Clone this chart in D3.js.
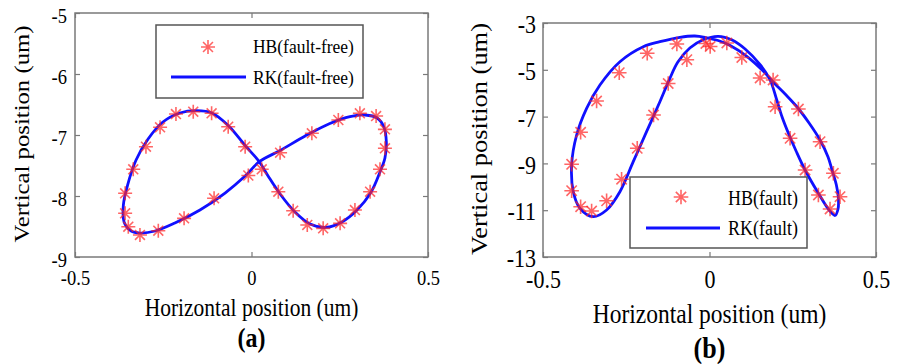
<!DOCTYPE html>
<html><head><meta charset="utf-8">
<script src="https://cdn.jsdelivr.net/npm/d3@7"></script>
<style>
body{margin:0;background:#fff}
svg{display:block}
text{font-family:"Liberation Serif","Times New Roman",serif;fill:#000}
</style>
</head><body>
<svg id="c" width="902" height="364"></svg>
<script>
// ---------- DATA ----------
// Panel (a): fault-free
const aXTicks = [-0.5, 0, 0.5];
const aYTicks = [-5, -6, -7, -8, -9];
const aHB_x = [0.029,-0.018,-0.066,-0.113,-0.165,-0.214,-0.259,-0.299,-0.335,-0.358,-0.358,-0.349,-0.316,-0.264,-0.191,-0.106,-0.009,0.081,0.171,0.246,0.307,0.353,0.378,0.378,0.364,0.336,0.293,0.251,0.203,0.158,0.118,0.076];
const aHB_y = [-7.562,-7.192,-6.864,-6.644,-6.618,-6.656,-6.874,-7.192,-7.562,-7.956,-8.284,-8.503,-8.639,-8.569,-8.366,-8.038,-7.664,-7.290,-6.972,-6.754,-6.644,-6.689,-6.907,-7.218,-7.562,-7.930,-8.230,-8.448,-8.530,-8.475,-8.241,-7.930];
const aRK_x = [0.022,-0.018,-0.066,-0.112,-0.155,-0.203,-0.251,-0.293,-0.327,-0.351,-0.363,-0.361,-0.341,-0.316,-0.273,-0.217,-0.146,-0.075,-0.018,0.022,0.081,0.152,0.222,0.279,0.322,0.356,0.375,0.382,0.378,0.364,0.339,0.299,0.256,0.211,0.166,0.123,0.081,0.047];
const aRK_y = [-7.438,-7.172,-6.844,-6.639,-6.602,-6.639,-6.787,-7.066,-7.410,-7.820,-8.148,-8.426,-8.574,-8.607,-8.574,-8.443,-8.230,-7.951,-7.672,-7.438,-7.254,-7.016,-6.811,-6.697,-6.672,-6.721,-6.869,-7.115,-7.377,-7.607,-7.934,-8.230,-8.426,-8.516,-8.459,-8.262,-7.967,-7.672];

// Panel (b): fault
const bXTicks = [-0.5, 0, 0.5];
const bYTicks = [-3, -5, -7, -9, -11, -13];
const bHB_x = [-0.354,-0.387,-0.414,-0.414,-0.387,-0.339,-0.271,-0.187,-0.098,-0.011,0.002,0.052,0.097,0.152,0.191,0.267,0.332,0.372,0.392,0.362,0.327,0.287,0.242,0.197,-0.068,-0.124,-0.168,-0.217,-0.264,-0.309];
const bHB_y = [-11.034,-10.850,-10.167,-9.038,-7.671,-6.333,-5.124,-4.295,-3.897,-3.876,-4.004,-3.855,-4.474,-5.350,-5.436,-6.675,-8.073,-9.423,-10.423,-10.949,-10.350,-9.282,-7.927,-6.577,-4.568,-5.585,-6.932,-8.355,-9.675,-10.598];
const bRK_x = [-0.349,-0.389,-0.409,-0.414,-0.399,-0.369,-0.329,-0.269,-0.199,-0.149,-0.089,-0.044,-0.011,0.026,0.062,0.112,0.162,0.194,0.230,0.263,0.299,0.332,0.356,0.368,0.381,0.387,0.386,0.377,0.359,0.327,0.287,0.260,0.237,0.218,0.202,0.182,0.152,0.107,0.068,0.026,-0.019,-0.059,-0.095,-0.119,-0.149,-0.189,-0.229,-0.269,-0.309];
const bRK_y = [-11.278,-10.919,-10.209,-9.068,-7.786,-6.645,-5.650,-4.654,-4.013,-3.799,-3.611,-3.556,-3.620,-3.748,-3.962,-4.423,-5.064,-5.564,-6.077,-6.590,-7.274,-8.000,-8.726,-9.282,-9.923,-10.479,-10.949,-11.226,-10.991,-10.278,-9.282,-8.470,-7.714,-7.017,-6.291,-5.436,-4.782,-4.111,-3.726,-3.568,-3.714,-4.068,-4.667,-5.363,-6.363,-7.645,-8.927,-10.209,-10.991];

const aLegend = ["HB(fault-free)", "RK(fault-free)"];
const bLegend = ["HB(fault)", "RK(fault)"];
const xLabel = "Horizontal position (um)";
const yLabel = "Vertical position (um)";

// ---------- DRAW ----------
const svg = d3.select("#c");
const BLUE = "#1010ff", RED = "#ff2424", AX = "#7a7a7a";
const FONT = '"Liberation Serif","Times New Roman",serif';

function starPath(r){
  const d = r*Math.SQRT1_2;
  return `M${-r},0L${r},0M0,${-r}L0,${r}M${-d},${-d}L${d},${d}M${-d},${d}L${d},${-d}`;
}

function stext(g, x, y, str, size, sy, opts={}){
  const t = g.append("text")
    .attr("transform", `translate(${x},${y}) scale(1,${sy})` + (opts.rot ? ` rotate(${opts.rot})` : ""))
    .attr("font-size", size)
    .attr("font-family", FONT)
    .attr("text-anchor", opts.anchor || "middle")
    .text(str);
  if (opts.bold) t.attr("font-weight", "bold");
  return t;
}

function panel(c){
  const g = svg.append("g");
  const x = d3.scaleLinear().domain([-0.5, 0.5]).range([c.left, c.right]);
  const y = d3.scaleLinear().domain(c.yDomain).range([c.bottom, c.top]);

  const fmt = d => String(d);
  const ax = g.append("g").attr("transform", `translate(0,${c.bottom})`)
    .call(d3.axisBottom(x).tickValues(c.xTicks).tickSize(-c.tick).tickFormat(fmt));
  ax.attr("font-family", FONT);
  ax.selectAll("text").each(function(){
    d3.select(this).attr("y", null).attr("dy", null).attr("fill", "#000")
     .attr("font-size", c.tickFont)
     .attr("transform", `translate(0,${c.xTickBase}) scale(1,${c.sy})`);
  });
  const ay = g.append("g").attr("transform", `translate(${c.left},0)`)
    .call(d3.axisLeft(y).tickValues(c.yTicks).tickSize(-c.tick).tickFormat(fmt));
  ay.attr("font-family", FONT);
  ay.selectAll("text").each(function(){
    d3.select(this).attr("x", null).attr("dy", null).attr("fill", "#000")
     .attr("font-size", c.tickFont).attr("text-anchor", "end")
     .attr("transform", `translate(${-c.yTickGap},${c.yTickBase}) scale(1,${c.sy})`);
  });
  g.append("g").attr("transform", `translate(0,${c.top})`)
    .call(d3.axisTop(x).tickValues(c.xTicks).tickSize(-c.tick).tickFormat(""));
  g.append("g").attr("transform", `translate(${c.right},0)`)
    .call(d3.axisRight(y).tickValues(c.yTicks).tickSize(-c.tick).tickFormat(""));
  g.selectAll(".domain").remove();
  g.selectAll(".tick line").attr("stroke", AX).attr("stroke-width", 1.2);

  g.append("rect").attr("x", c.left).attr("y", c.top)
    .attr("width", c.right - c.left).attr("height", c.bottom - c.top)
    .attr("fill", "none").attr("stroke", AX).attr("stroke-width", 1.5);

  // RK line
  const rk = c.rkx.map((v, i) => [v, c.rky[i]]);
  g.append("path").datum(rk)
    .attr("d", d3.line().x(d => x(d[0])).y(d => y(d[1])).curve(d3.curveCatmullRomClosed.alpha(0.5)))
    .attr("fill", "none").attr("stroke", BLUE).attr("stroke-width", 2.8).attr("stroke-linejoin", "round");

  // HB stars
  const hb = c.hbx.map((v, i) => [v, c.hby[i]]);
  g.append("g").selectAll("path").data(hb).join("path")
    .attr("transform", d => `translate(${x(d[0])},${y(d[1])})`)
    .attr("d", starPath(c.starR))
    .attr("fill", "none").attr("stroke", RED).attr("stroke-opacity", 0.7).attr("stroke-width", 1.6);

  // legend
  const L = c.leg;
  g.append("rect").attr("x", L.x0).attr("y", L.y0).attr("width", L.x1 - L.x0).attr("height", L.y1 - L.y0)
    .attr("fill", "#fff").attr("stroke", "#555").attr("stroke-width", 1.5);
  g.append("path").attr("transform", `translate(${L.sx},${L.sy})`).attr("d", starPath(c.starR))
    .attr("fill", "none").attr("stroke", RED).attr("stroke-opacity", 0.7).attr("stroke-width", 1.6);
  g.append("line").attr("x1", L.lx0).attr("x2", L.lx1).attr("y1", L.ly).attr("y2", L.ly)
    .attr("stroke", BLUE).attr("stroke-width", 3);
  stext(g, L.tx, L.t1, c.legText[0], L.font, L.fsy, {anchor: "start"});
  stext(g, L.tx, L.t2, c.legText[1], L.font, L.fsy, {anchor: "start"});

  // labels
  stext(g, (c.left + c.right) / 2, c.xLabBase, xLabel, c.labFont, c.sy);
  stext(g, c.yLabX, c.yLabY, yLabel, c.yLabFont, c.sy, {rot: -90});
  stext(g, (c.left + c.right) / 2, c.capBase, c.caption, c.capFont, c.capSy, {bold: true});
}

panel({
  left: 75, right: 428, top: 13, bottom: 257, yDomain: [-9, -5],
  xTicks: aXTicks, yTicks: aYTicks, tick: 5,
  tickFont: 18.5, sy: 1.15, xTickBase: 28, yTickGap: 8, yTickBase: 9,
  rkx: aRK_x, rky: aRK_y, hbx: aHB_x, hby: aHB_y, starR: 7,
  leg: {x0: 156, x1: 363, y0: 25, y1: 98, sx: 208, sy: 47, lx0: 171, lx1: 246, ly: 77,
        tx: 253, t1: 53, t2: 84, font: 17.5, fsy: 1.1},
  legText: aLegend,
  labFont: 21.5, xLabBase: 316, yLabX: 29, yLabY: 134, yLabFont: 21.5,
  caption: "(a)", capFont: 24, capSy: 1.1, capBase: 347
});

panel({
  left: 543, right: 876, top: 23, bottom: 257, yDomain: [-13, -3],
  xTicks: bXTicks, yTicks: bYTicks, tick: 5,
  tickFont: 22, sy: 1.15, xTickBase: 31, yTickGap: 7, yTickBase: 9.7,
  rkx: bRK_x, rky: bRK_y, hbx: bHB_x, hby: bHB_y, starR: 7.3,
  leg: {x0: 630, x1: 807, y0: 177, y1: 248, sx: 681, sy: 197, lx0: 646, lx1: 720, ly: 228,
        tx: 728, t1: 205, t2: 235, font: 18, fsy: 1.2},
  legText: bLegend,
  labFont: 23.5, xLabBase: 323, yLabX: 487, yLabY: 139, yLabFont: 23,
  caption: "(b)", capFont: 26, capSy: 1.1, capBase: 358
});
</script>
</body></html>
